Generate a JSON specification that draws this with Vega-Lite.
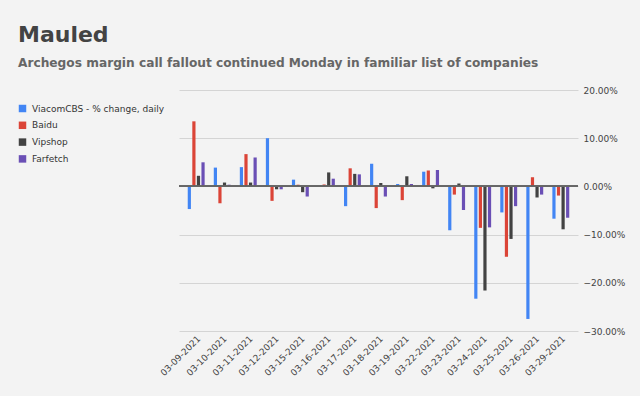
{
  "$schema": "https://vega.github.io/schema/vega-lite/v6.json",
  "width": 399,
  "height": 241,
  "autosize": {"type": "none"},
  "padding": {"left": 179, "top": 90, "right": 62, "bottom": 65},
  "background": "#f3f3f3",
  "config": {"view": {"stroke": null}, "font": "DejaVu Sans"},
  "title": {
    "text": "Mauled",
    "subtitle": "Archegos margin call fallout continued Monday in familiar list of companies",
    "anchor": "start",
    "frame": "group",
    "dx": -161,
    "offset": 15.5,
    "font": "DejaVu Sans",
    "fontSize": 22,
    "fontWeight": "bold",
    "color": "#434343",
    "subtitleFont": "DejaVu Sans",
    "subtitleFontSize": 12.2,
    "subtitleFontWeight": "bold",
    "subtitleColor": "#666666",
    "subtitlePadding": 10
  },
  "data": {
    "values": [
      {"date": "03-09-2021", "series": "ViacomCBS - % change, daily", "value": -0.047},
      {"date": "03-09-2021", "series": "Baidu", "value": 0.135},
      {"date": "03-09-2021", "series": "Vipshop", "value": 0.022},
      {"date": "03-09-2021", "series": "Farfetch", "value": 0.050},
      {"date": "03-10-2021", "series": "ViacomCBS - % change, daily", "value": 0.039},
      {"date": "03-10-2021", "series": "Baidu", "value": -0.035},
      {"date": "03-10-2021", "series": "Vipshop", "value": 0.008},
      {"date": "03-10-2021", "series": "Farfetch", "value": 0.0035},
      {"date": "03-11-2021", "series": "ViacomCBS - % change, daily", "value": 0.040},
      {"date": "03-11-2021", "series": "Baidu", "value": 0.067},
      {"date": "03-11-2021", "series": "Vipshop", "value": 0.008},
      {"date": "03-11-2021", "series": "Farfetch", "value": 0.060},
      {"date": "03-12-2021", "series": "ViacomCBS - % change, daily", "value": 0.100},
      {"date": "03-12-2021", "series": "Baidu", "value": -0.030},
      {"date": "03-12-2021", "series": "Vipshop", "value": -0.006},
      {"date": "03-12-2021", "series": "Farfetch", "value": -0.006},
      {"date": "03-15-2021", "series": "ViacomCBS - % change, daily", "value": 0.014},
      {"date": "03-15-2021", "series": "Baidu", "value": 0.0035},
      {"date": "03-15-2021", "series": "Vipshop", "value": -0.012},
      {"date": "03-15-2021", "series": "Farfetch", "value": -0.021},
      {"date": "03-16-2021", "series": "ViacomCBS - % change, daily", "value": 0.0},
      {"date": "03-16-2021", "series": "Baidu", "value": 0.004},
      {"date": "03-16-2021", "series": "Vipshop", "value": 0.029},
      {"date": "03-16-2021", "series": "Farfetch", "value": 0.016},
      {"date": "03-17-2021", "series": "ViacomCBS - % change, daily", "value": -0.041},
      {"date": "03-17-2021", "series": "Baidu", "value": 0.0375},
      {"date": "03-17-2021", "series": "Vipshop", "value": 0.026},
      {"date": "03-17-2021", "series": "Farfetch", "value": 0.025},
      {"date": "03-18-2021", "series": "ViacomCBS - % change, daily", "value": 0.047},
      {"date": "03-18-2021", "series": "Baidu", "value": -0.045},
      {"date": "03-18-2021", "series": "Vipshop", "value": 0.007},
      {"date": "03-18-2021", "series": "Farfetch", "value": -0.021},
      {"date": "03-19-2021", "series": "ViacomCBS - % change, daily", "value": 0.005},
      {"date": "03-19-2021", "series": "Baidu", "value": -0.0285},
      {"date": "03-19-2021", "series": "Vipshop", "value": 0.021},
      {"date": "03-19-2021", "series": "Farfetch", "value": 0.005},
      {"date": "03-22-2021", "series": "ViacomCBS - % change, daily", "value": 0.0305},
      {"date": "03-22-2021", "series": "Baidu", "value": 0.033},
      {"date": "03-22-2021", "series": "Vipshop", "value": -0.004},
      {"date": "03-22-2021", "series": "Farfetch", "value": 0.034},
      {"date": "03-23-2021", "series": "ViacomCBS - % change, daily", "value": -0.091},
      {"date": "03-23-2021", "series": "Baidu", "value": -0.017},
      {"date": "03-23-2021", "series": "Vipshop", "value": 0.006},
      {"date": "03-23-2021", "series": "Farfetch", "value": -0.049},
      {"date": "03-24-2021", "series": "ViacomCBS - % change, daily", "value": -0.233},
      {"date": "03-24-2021", "series": "Baidu", "value": -0.086},
      {"date": "03-24-2021", "series": "Vipshop", "value": -0.216},
      {"date": "03-24-2021", "series": "Farfetch", "value": -0.085},
      {"date": "03-25-2021", "series": "ViacomCBS - % change, daily", "value": -0.054},
      {"date": "03-25-2021", "series": "Baidu", "value": -0.146},
      {"date": "03-25-2021", "series": "Vipshop", "value": -0.109},
      {"date": "03-25-2021", "series": "Farfetch", "value": -0.041},
      {"date": "03-26-2021", "series": "ViacomCBS - % change, daily", "value": -0.275},
      {"date": "03-26-2021", "series": "Baidu", "value": 0.019},
      {"date": "03-26-2021", "series": "Vipshop", "value": -0.023},
      {"date": "03-26-2021", "series": "Farfetch", "value": -0.017},
      {"date": "03-29-2021", "series": "ViacomCBS - % change, daily", "value": -0.067},
      {"date": "03-29-2021", "series": "Baidu", "value": -0.019},
      {"date": "03-29-2021", "series": "Vipshop", "value": -0.089},
      {"date": "03-29-2021", "series": "Farfetch", "value": -0.065}
    ]
  },
  "layer": [
    {
      "mark": {"type": "bar"},
      "encoding": {
        "x": {
          "field": "date",
          "type": "ordinal",
          "scale": {"paddingInner": 0, "paddingOuter": 0.16},
          "axis": {
            "title": null,
            "labelAngle": -45,
            "labelFontSize": 9,
            "labelColor": "#444444",
            "ticks": false,
            "domain": false,
            "grid": false,
            "labelPadding": 3
          }
        },
        "xOffset": {
          "field": "series",
          "type": "nominal",
          "sort": ["ViacomCBS - % change, daily", "Baidu", "Vipshop", "Farfetch"],
          "scale": {"paddingInner": 0.3, "paddingOuter": 1.18}
        },
        "y": {
          "field": "value",
          "type": "quantitative",
          "scale": {"domain": [-0.3, 0.2], "nice": false, "zero": false},
          "axis": {
            "title": null,
            "orient": "right",
            "format": ".2%",
            "values": [-0.3, -0.2, -0.1, 0, 0.1, 0.2],
            "grid": true,
            "gridColor": "#d4d4d4",
            "domain": false,
            "ticks": false,
            "labelFontSize": 9,
            "labelColor": "#444444",
            "labelPadding": 5
          }
        },
        "color": {
          "field": "series",
          "type": "nominal",
          "scale": {
            "domain": ["ViacomCBS - % change, daily", "Baidu", "Vipshop", "Farfetch"],
            "range": ["#4285f4", "#db4437", "#424242", "#6a4fb5"]
          },
          "legend": {
            "title": null,
            "orient": "none",
            "legendX": -161,
            "legendY": 14,
            "symbolType": "square",
            "symbolSize": 56,
            "labelFontSize": 9,
            "labelColor": "#333333",
            "rowPadding": 6.8,
            "labelOffset": 5,
            "padding": 0
          }
        }
      }
    },
    {
      "mark": {"type": "rule", "color": "#666666", "strokeWidth": 1},
      "encoding": {"y": {"datum": 0}}
    }
  ]
}
